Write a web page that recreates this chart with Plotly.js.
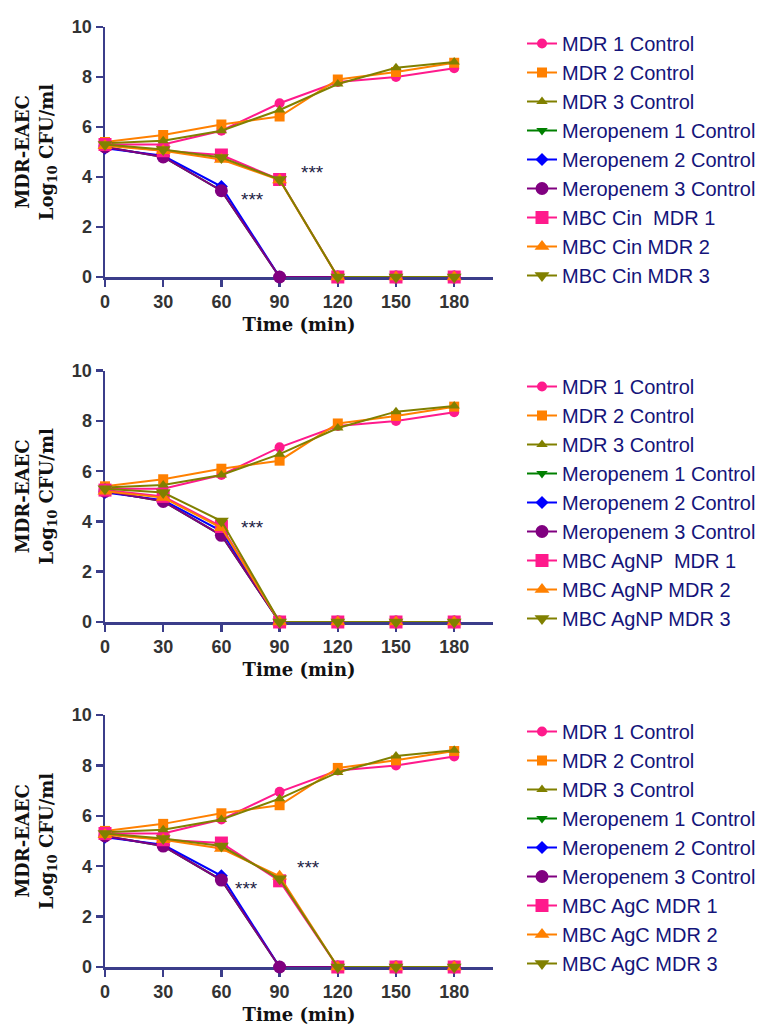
<!DOCTYPE html>
<html>
<head>
<meta charset="utf-8">
<script src="https://cdn.plot.ly/plotly-3.0.1.min.js"></script>
<style>html,body{margin:0;padding:0;background:#fff}#chart{width:768px;height:1025px}</style>
</head>
<body>
<div id="chart"></div>
<script>
// ---- data ----
var times = [0, 30, 60, 90, 120, 150, 180];
var tickLabels = ['0', '30', '60', '90', '120', '150', '180'];

var mdr1Control = [5.3, 5.3, 5.85, 6.95, 7.8, 8.0, 8.35];
var mdr2Control = [5.4, 5.68, 6.1, 6.42, 7.9, 8.2, 8.57];
var mdr3Control = [5.35, 5.45, 5.85, 6.68, 7.72, 8.37, 8.6];
var mero1Control = [5.2, 4.8, 3.45, 0, 0, 0, 0];
var mero2Control = [5.15, 4.85, 3.62, 0, 0, 0, 0];
var mero3Control = [5.2, 4.8, 3.45, 0, 0, 0, 0];

var cinMdr1 = [5.3, 5.05, 4.88, 3.9, 0, 0, 0];
var cinMdr2 = [5.25, 5.05, 4.7, 3.88, 0, 0, 0];
var cinMdr3 = [5.3, 5.1, 4.78, 3.9, 0, 0, 0];

var agnpMdr1 = [5.25, 5.0, 3.8, 0, 0, 0, 0];
var agnpMdr2 = [5.2, 4.95, 3.75, 0, 0, 0, 0];
var agnpMdr3 = [5.3, 5.15, 4.02, 0, 0, 0, 0];

var agcMdr1 = [5.3, 5.05, 4.92, 3.42, 0, 0, 0];
var agcMdr2 = [5.25, 5.05, 4.7, 3.6, 0, 0, 0];
var agcMdr3 = [5.3, 5.1, 4.8, 3.5, 0, 0, 0];

var panelTreatments = [
  {names: ['MBC Cin  MDR 1', 'MBC Cin MDR 2', 'MBC Cin MDR 3'], values: [cinMdr1, cinMdr2, cinMdr3]},
  {names: ['MBC AgNP  MDR 1', 'MBC AgNP MDR 2', 'MBC AgNP MDR 3'], values: [agnpMdr1, agnpMdr2, agnpMdr3]},
  {names: ['MBC AgC MDR 1', 'MBC AgC MDR 2', 'MBC AgC MDR 3'], values: [agcMdr1, agcMdr2, agcMdr3]}
];
var controlNames = ['MDR 1 Control', 'MDR 2 Control', 'MDR 3 Control',
  'Meropenem 1 Control', 'Meropenem 2 Control', 'Meropenem 3 Control'];
var controlValues = [mdr1Control, mdr2Control, mdr3Control, mero1Control, mero2Control, mero3Control];

// significance marks: [x, y] per panel
var starsPanel = [
  [[76, 3.1], [107, 4.2]],
  [[76, 3.75]],
  [[73, 3.1], [105, 3.93]]
];

// ---- styles ----
var PINK = '#ff1a8c', ORANGE = '#ff8000', OLIVE = '#808000', GREEN = '#008000', BLUE = '#0000ff', PURPLE = '#800080';
var styles = [
  {c: PINK, s: 'circle', z: 10},
  {c: ORANGE, s: 'square', z: 10},
  {c: OLIVE, s: 'triangle-up', z: 10},
  {c: GREEN, s: 'triangle-down', z: 10},
  {c: BLUE, s: 'diamond', z: 10},
  {c: PURPLE, s: 'circle', z: 13},
  {c: PINK, s: 'square', z: 13},
  {c: ORANGE, s: 'triangle-up', z: 13},
  {c: OLIVE, s: 'triangle-down', z: 13}
];
var AXIS = '#3b3d8a';

var traces = [];
var annotations = [];
var layout = {
  width: 768, height: 1025,
  margin: {l: 0, r: 0, t: 0, b: 0},
  paper_bgcolor: '#fff', plot_bgcolor: '#fff',
  showlegend: true
};

// y domains in pixel from top
var yPix = [[27, 277], [370.7, 622], [715, 967]];
var legendTop = [24, 367, 712];

for (var p = 0; p < 3; p++) {
  var sfx = p === 0 ? '' : String(p + 1);
  var xa = 'x' + sfx, ya = 'y' + sfx;
  var lg = 'legend' + sfx;
  var names = controlNames.concat(panelTreatments[p].names);
  var vals = controlValues.concat(panelTreatments[p].values);
  for (var i = 0; i < names.length; i++) {
    var st = styles[i];
    traces.push({
      type: 'scatter', mode: 'lines+markers',
      x: times, y: vals[i], name: names[i],
      xaxis: xa, yaxis: ya, legend: lg,
      cliponaxis: false,
      line: {color: st.c, width: 2},
      marker: {color: st.c, symbol: st.s, size: st.z},
      hoverinfo: 'x+y+name'
    });
  }
  layout['xaxis' + sfx] = {
    domain: [105 / 768, 493 / 768], anchor: ya,
    range: [0, 200], tickvals: times, ticktext: tickLabels,
    showline: true, linecolor: AXIS, linewidth: 2.5,
    ticks: 'outside', ticklen: 7, tickwidth: 2.5, tickcolor: AXIS,
    showgrid: false, zeroline: false, layer: 'below traces',
    tickfont: {family: 'Liberation Sans, Arial', size: 18, color: '#333333', weight: 'bold'},
    title: {text: 'Time (min)', standoff: 8,
      font: {family: 'DejaVu Serif', size: 18, color: '#111111', weight: 'bold'}}
  };
  layout['yaxis' + sfx] = {
    domain: [1 - yPix[p][1] / 1025, 1 - yPix[p][0] / 1025], anchor: xa,
    range: [0, 10], tickvals: [0, 2, 4, 6, 8, 10],
    showline: true, linecolor: AXIS, linewidth: 2.5,
    ticks: 'outside', ticklen: 7, tickwidth: 2.5, tickcolor: AXIS,
    showgrid: false, zeroline: false, layer: 'below traces',
    tickfont: {family: 'Liberation Sans, Arial', size: 18, color: '#333333', weight: 'bold'},
    title: {text: 'MDR-EAEC<br>Log<sub>10</sub> CFU/ml', standoff: 14,
      font: {family: 'DejaVu Serif', size: 18, color: '#111111', weight: 'bold'}}
  };
  layout[lg] = {
    x: 522 / 768, xanchor: 'left',
    y: 1 - legendTop[p] / 1025, yanchor: 'top',
    bgcolor: 'rgba(0,0,0,0)', borderwidth: 0,
    font: {family: 'Liberation Sans, Arial', size: 20, color: '#14147a'},
    itemwidth: 30, traceorder: 'normal'
  };
  starsPanel[p].forEach(function (s) {
    annotations.push({
      xref: xa, yref: ya, x: s[0], y: s[1], text: '***', showarrow: false,
      font: {family: 'Liberation Sans, Arial', size: 19, color: '#222244'}
    });
  });
}
layout.annotations = annotations;

Plotly.newPlot('chart', traces, layout, {displayModeBar: false, staticPlot: true});
</script>
</body>
</html>
